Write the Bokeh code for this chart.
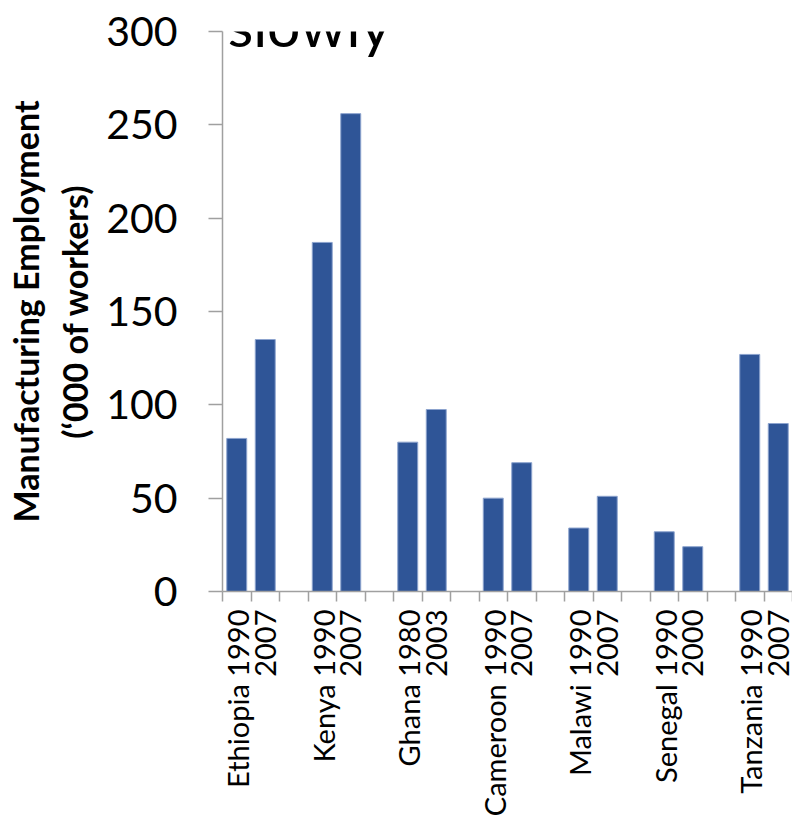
import math
from bokeh.plotting import figure
from bokeh.models import FixedTicker, Label, ColumnDataSource, Range1d
from bokeh.embed import file_html
from bokeh.resources import INLINE

countries = ["Ethiopia", "Kenya", "Ghana", "Cameroon", "Malawi", "Senegal", "Tanzania"]
year_first = ["1990", "1990", "1980", "1990", "1990", "1990", "1990"]
year_second = ["2007", "2007", "2003", "2007", "2007", "2000", "2007"]
value_first = [82, 187, 80, 50, 34, 32, 127]
value_second = [135, 256, 97.5, 69, 51, 24, 90]
y_ticks = [0, 50, 100, 150, 200, 250, 300]
title_text = "slowly"
y_label = "Manufacturing Employment\n(\u2018000 of workers)"

FONT = "Lato"
BAR = "#2F5597"
AXIS = "#A0A0A0"

n_slots = 3 * len(countries) - 1

xs, tops = [], []
for i in range(len(countries)):
    xs += [3 * i + 0.5, 3 * i + 1.5]
    tops += [value_first[i], value_second[i]]
src = ColumnDataSource(dict(x=xs, top=tops))

p = figure(frame_width=570, frame_height=560, output_backend="svg", toolbar_location=None,
           x_range=Range1d(0, n_slots), y_range=Range1d(0, 300),
           min_border_left=222, min_border_right=0, min_border_top=31, min_border_bottom=227)
p.outline_line_color = None
p.xgrid.visible = False
p.ygrid.visible = False
p.background_fill_color = "white"
p.border_fill_color = "white"

p.vbar(x="x", top="top", bottom=0, width=0.7, source=src,
       fill_color=BAR, line_color="#8CA3CE", line_width=1)

# x axis
p.xaxis.ticker = FixedTicker(ticks=list(range(n_slots + 1)))
overrides = {k: "" for k in range(n_slots + 1)}
for i, c in enumerate(countries):
    overrides[3 * i + 1] = f"{c} {year_first[i]}\n{year_second[i]}"
p.xaxis.major_label_overrides = overrides
p.xaxis.major_label_orientation = math.pi / 2
p.xaxis.major_label_text_font = FONT
p.xaxis.major_label_text_font_size = "29px"
p.xaxis.major_label_text_line_height = 0.76
p.xaxis.major_label_text_color = "black"
p.xaxis.major_label_standoff = 8
p.xaxis.major_tick_out = 10
p.xaxis.major_tick_in = 0
p.xaxis.minor_tick_line_color = None
p.xaxis.axis_line_color = AXIS
p.xaxis.axis_line_width = 1.5
p.xaxis.major_tick_line_color = AXIS
p.xaxis.major_tick_line_width = 1.5

# y axis
p.yaxis.ticker = FixedTicker(ticks=y_ticks)
p.yaxis.major_label_text_font = FONT
p.yaxis.major_label_text_font_size = "41px"
p.yaxis.major_label_text_color = "black"
p.yaxis.major_label_standoff = 31
p.yaxis.major_tick_out = 14
p.yaxis.major_tick_in = 0
p.yaxis.minor_tick_line_color = None
p.yaxis.axis_line_color = AXIS
p.yaxis.axis_line_width = 1.5
p.yaxis.major_tick_line_color = AXIS
p.yaxis.major_tick_line_width = 1.5
p.yaxis.axis_label = y_label
p.yaxis.axis_label_text_font = FONT
p.yaxis.axis_label_text_font_style = "bold"
p.yaxis.axis_label_text_font_size = "34px"
p.yaxis.axis_label_text_color = "black"
p.yaxis.axis_label_standoff = 8

p.add_layout(Label(x=0.18, y=303.9, text=title_text, text_font=FONT,
                   text_font_size="59px", text_color="black",
                   text_baseline="alphabetic"))

open("out.html", "w").write(file_html(p, INLINE))
